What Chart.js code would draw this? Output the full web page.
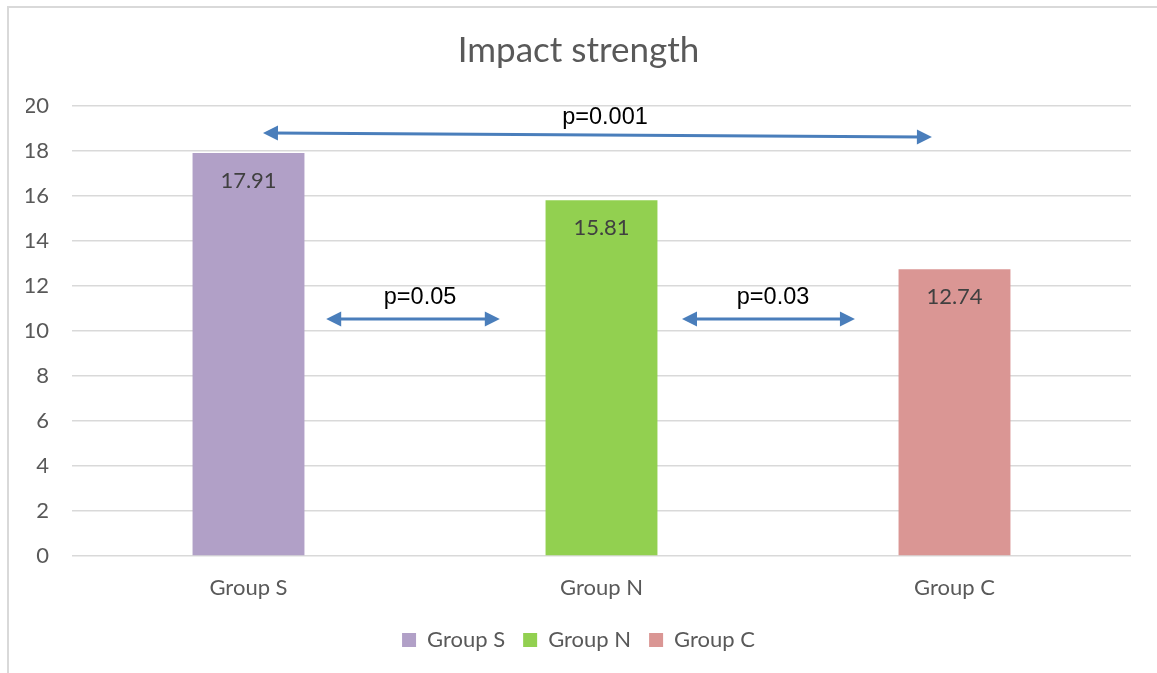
<!DOCTYPE html>
<html>
<head>
<meta charset="utf-8">
<script src="https://cdn.jsdelivr.net/npm/chart.js@4"></script>
<style>
  body { margin: 0; background: #fff; }
  #frame { position: absolute; left: 7px; top: 6px; width: 1200px; height: 700px;
           border-left: 2px solid #d9d9d9; border-top: 2px solid #d9d9d9; }
  #wrap { position: absolute; left: 0; top: 0; width: 1157px; height: 673px; }
</style>
</head>
<body>
<div id="frame"></div>
<div id="wrap"><canvas id="mychart"></canvas></div>
<script>
const categories = ['Group S', 'Group N', 'Group C'];
const values = [17.91, 15.81, 12.74];
const barColors = ['#B1A0C7', '#92D050', '#DA9694'];
const yMin = 0, yMax = 20, yStep = 2;

// significance arrows, in category-index / value units
const arrowFrom = [[0.041, 18.8], [0.22, 10.53], [1.228, 10.53]];
const arrowTo = [[1.936, 18.62], [0.712, 10.53], [1.718, 10.53]];
const pLabels = ['p=0.001', 'p=0.05', 'p=0.03'];
const pLabelAt = [[1.01, 19.47], [0.486, 11.47], [1.486, 11.47]];

const FONT = 'Lato, "Open Sans", sans-serif';

const datasets = categories.map((c, i) => ({
    label: c,
    data: categories.map((_, j) => j === i ? values[i] : null),
    backgroundColor: barColors[i],
    borderWidth: 0,
    grouped: false,
    barPercentage: 0.317,
    categoryPercentage: 1
}))

const valueLabels = {
    id: 'valueLabels',
    afterDatasetsDraw(chart) {
        const ctx = chart.ctx;
        ctx.save();
        ctx.font = '22px ' + FONT;
        ctx.fillStyle = '#404040';
        ctx.textAlign = 'center';
        ctx.textBaseline = 'middle';
        chart.data.datasets.forEach((ds, i) => {
            const el = chart.getDatasetMeta(i).data[i];
            ctx.fillText(values[i].toFixed(2), el.x, el.y + 28);
        });
        ctx.restore();
    }
}

const drawHead = (ctx, x, y, ang) => {
    const len = 15, half = 7.5;
    ctx.beginPath();
    ctx.moveTo(x, y);
    ctx.lineTo(x - len * Math.cos(ang) + half * Math.sin(ang), y - len * Math.sin(ang) - half * Math.cos(ang));
    ctx.lineTo(x - len * Math.cos(ang) - half * Math.sin(ang), y - len * Math.sin(ang) + half * Math.cos(ang));
    ctx.closePath();
    ctx.fill();
}

const arrows = {
    id: 'arrows',
    afterDatasetsDraw(chart) {
        const ctx = chart.ctx;
        const xs = chart.scales.x, ys = chart.scales.y;
        const px = v => xs.getPixelForValue(0) + v * (xs.getPixelForValue(1) - xs.getPixelForValue(0));
        ctx.save();
        ctx.strokeStyle = '#4A7EBB';
        ctx.fillStyle = '#4A7EBB';
        ctx.lineWidth = 3;
        arrowFrom.forEach((f, i) => {
            const x1 = px(f[0]), y1 = ys.getPixelForValue(f[1]);
            const x2 = px(arrowTo[i][0]), y2 = ys.getPixelForValue(arrowTo[i][1]);
            const ang = Math.atan2(y2 - y1, x2 - x1);
            ctx.beginPath();
            ctx.moveTo(x1 + 10 * Math.cos(ang), y1 + 10 * Math.sin(ang));
            ctx.lineTo(x2 - 10 * Math.cos(ang), y2 - 10 * Math.sin(ang));
            ctx.stroke();
            drawHead(ctx, x2, y2, ang);
            drawHead(ctx, x1, y1, ang + Math.PI);
        });
        ctx.fillStyle = '#000';
        ctx.font = '23.5px "Liberation Sans", Arial, sans-serif';
        ctx.textAlign = 'center';
        ctx.textBaseline = 'middle';
        pLabels.forEach((t, i) => {
            ctx.fillText(t, px(pLabelAt[i][0]), ys.getPixelForValue(pLabelAt[i][1]));
        });
        ctx.restore();
    }
}

const config = {
    type: 'bar',
    data: { labels: categories, datasets: datasets },
    options: {
        responsive: true,
        maintainAspectRatio: false,
        animation: false,
        layout: { padding: { left: 26, right: 26, top: 0, bottom: 12 } },
        plugins: {
            title: {
                display: true,
                text: 'Impact strength',
                color: '#595959',
                font: { family: FONT, size: 35, weight: 'normal' },
                padding: { top: 30, bottom: 34 }
            },
            legend: {
                position: 'bottom',
                labels: {
                    boxWidth: 14,
                    boxHeight: 14,
                    padding: 18,
                    color: '#595959',
                    font: { family: FONT, size: 22 }
                }
            },
            tooltip: { enabled: false }
        },
        scales: {
            x: {
                grid: { display: false, drawTicks: false },
                border: { display: false },
                ticks: { color: '#595959', padding: 19, font: { family: FONT, size: 22 } },
                afterFit: s => { s.height = 55; }
            },
            y: {
                min: yMin,
                max: yMax,
                grid: { color: '#D9D9D9', lineWidth: 1.5, drawTicks: false },
                border: { display: false },
                ticks: { stepSize: yStep, color: '#595959', padding: 23, font: { family: FONT, size: 22 } },
                afterFit: s => { s.width = 46; }
            }
        }
    },
    plugins: [valueLabels, arrows]
}

const mychart = new Chart(document.querySelector('#mychart'), config)
</script>
</body>
</html>
